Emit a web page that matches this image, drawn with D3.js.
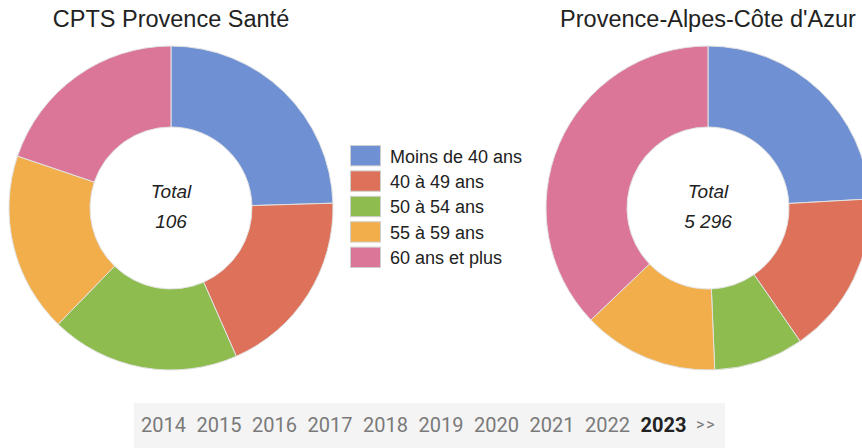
<!DOCTYPE html>
<html lang="fr">
<head>
    <meta charset="UTF-8">
    <title>Pyramide des âges - CPTS Provence Santé</title>
    <script src="https://cdn.jsdelivr.net/npm/d3@7"></script>
    <style>
        body { margin: 0; background: #fff; }
        svg { display: block; }
    </style>
</head>
<body>
    <script>
        var w = 862;
        var h = 448;

        // tranches d'âge (légende)
        var categories = ["Moins de 40 ans", "40 à 49 ans", "50 à 54 ans", "55 à 59 ans", "60 ans et plus"];
        var colors = ["#6f91d4", "#dd7159", "#8fbc4f", "#f1ae4b", "#dc7699"];

        // effectifs
        var cptsValues = [26, 20, 20, 19, 21];
        var pacaValues = [1277, 861, 475, 716, 1967];

        var titles = ["CPTS Provence Santé", "Provence-Alpes-Côte d'Azur"];

        var years = ["2014", "2015", "2016", "2017", "2018", "2019", "2020", "2021", "2022", "2023"];
        var currentYear = "2023";

        var outerR = 162, innerR = 81;

        var svg = d3.select("body")
                    .append("svg")
                    .attr("width", w)
                    .attr("height", h);

        var fmt = d3.formatLocale({decimal: ",", thousands: "\u00a0", grouping: [3], currency: ["", "€"]}).format(",d");

        var pie = d3.pie().sort(null).value(function(d) { return d; });
        var arc = d3.arc().innerRadius(innerR).outerRadius(outerR);

        function drawDonut(cx, cy, values, title) {
            var g = svg.append("g").attr("transform", "translate(" + cx + "," + cy + ")");

            g.selectAll("path")
                .data(pie(values))
                .enter()
                .append("path")
                .attr("d", arc)
                .attr("fill", function(d, i) { return colors[i]; })
                .attr("stroke", "#e2e2e2")
                .attr("stroke-width", 1);

            svg.append("text")
                .attr("x", cx)
                .attr("y", 27)
                .attr("text-anchor", "middle")
                .attr("font-family", "Liberation Sans, Arial, sans-serif")
                .attr("font-size", 23.5)
                .attr("fill", "#222")
                .text(title);

            g.append("text")
                .attr("y", -10)
                .attr("text-anchor", "middle")
                .attr("font-family", "Liberation Sans, Arial, sans-serif")
                .attr("font-style", "italic")
                .attr("font-size", 19)
                .attr("fill", "#222")
                .text("Total");

            g.append("text")
                .attr("y", 20)
                .attr("text-anchor", "middle")
                .attr("font-family", "Liberation Sans, Arial, sans-serif")
                .attr("font-style", "italic")
                .attr("font-size", 19)
                .attr("fill", "#222")
                .text(fmt(d3.sum(values)));
        }

        drawDonut(171, 208, cptsValues, titles[0]);
        drawDonut(708, 208, pacaValues, titles[1]);

        // légende
        var legendY = d3.scaleBand()
                        .domain(categories)
                        .range([145, 268])
                        .paddingInner(0.16);

        var legend = svg.append("g");
        legend.selectAll("rect")
            .data(categories)
            .enter()
            .append("rect")
            .attr("x", 350.5)
            .attr("y", function(d) { return legendY(d) + 0.5; })
            .attr("width", 30)
            .attr("height", legendY.bandwidth() - 1)
            .attr("fill", function(d, i) { return colors[i]; })
            .attr("stroke", "#cfcfcf");

        legend.selectAll("text")
            .data(categories)
            .enter()
            .append("text")
            .attr("x", 390)
            .attr("y", function(d) { return legendY(d) + 17.5; })
            .attr("font-family", "Liberation Sans, Arial, sans-serif")
            .attr("font-size", 18)
            .attr("fill", "#222")
            .text(function(d) { return d; });

        // barre des années
        svg.append("rect")
            .attr("x", 134)
            .attr("y", 403)
            .attr("width", 591)
            .attr("height", 45)
            .attr("fill", "#f4f4f4");

        var xYear = d3.scalePoint()
                        .domain(years.concat([">>"]))
                        .range([141, 696]);

        svg.selectAll("text.year")
            .data(years)
            .enter()
            .append("text")
            .attr("class", "year")
            .attr("x", function(d) { return xYear(d); })
            .attr("y", 432)
            .attr("font-family", "Roboto, sans-serif")
            .attr("font-size", 20)
            .attr("font-weight", function(d) { return d === currentYear ? "bold" : "normal"; })
            .attr("fill", function(d) { return d === currentYear ? "#222" : "#7a7a7a"; })
            .text(function(d) { return d; });

        svg.append("text")
            .attr("x", xYear(">>"))
            .attr("y", 430)
            .attr("font-family", "Roboto, sans-serif")
            .attr("font-size", 16)
            .attr("letter-spacing", 2)
            .attr("fill", "#7a7a7a")
            .text(">>");
    </script>
</body>
</html>
